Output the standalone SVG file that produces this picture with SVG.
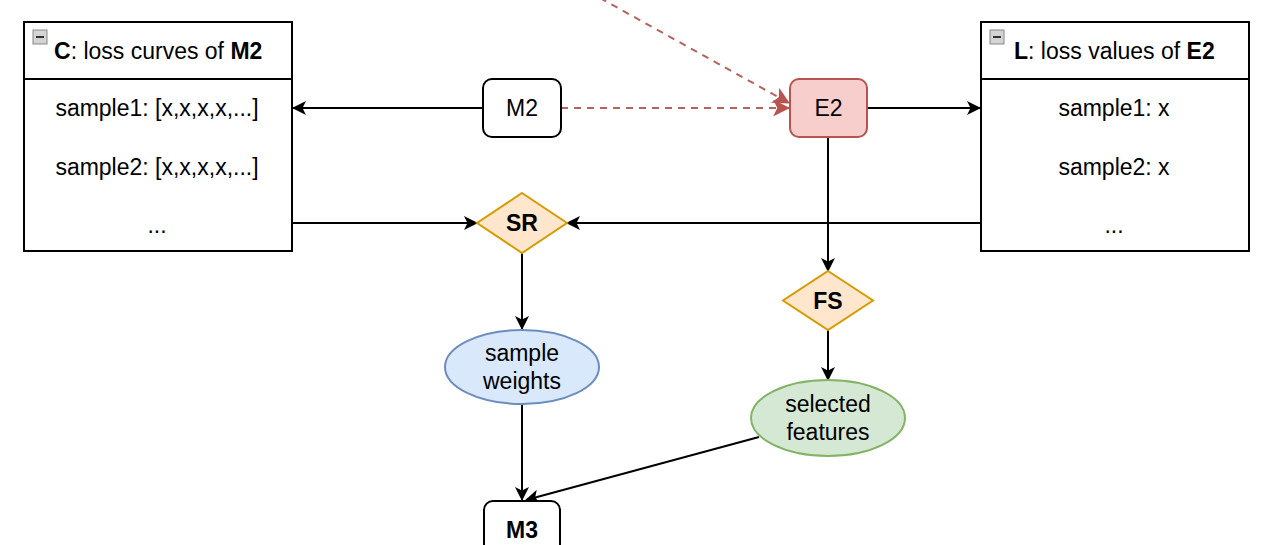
<svg xmlns="http://www.w3.org/2000/svg" width="1280" height="545" viewBox="0 0 1280 545">
<defs>
<style>
text{font-family:"Liberation Sans",Arial,sans-serif;font-size:23px;fill:#000;}
.c{text-anchor:middle;}
.b{font-weight:bold;}
.box{fill:#fff;stroke:#000;stroke-width:2;}
.edge{fill:none;stroke:#000;stroke-width:2;}
.dash{fill:none;stroke:#b5635e;stroke-width:2;stroke-dasharray:7,6;}
.icon{fill:#d4d4d4;stroke:#888;stroke-width:1;}
</style>
<marker id="ah" viewBox="0 0 14 14" refX="13" refY="7" markerWidth="14" markerHeight="14" markerUnits="userSpaceOnUse" orient="auto">
<path d="M0,0 L14,7 L0,14 L3.5,7 Z" fill="#000"/>
</marker>
<marker id="ahr" viewBox="0 0 16 16" refX="15" refY="8" markerWidth="17" markerHeight="17" markerUnits="userSpaceOnUse" orient="auto">
<path d="M0,0 L16,8 L0,16 L4,8 Z" fill="#b85450"/>
</marker>
</defs>

<g id="connectors">
<line class="edge" x1="483" y1="108" x2="293" y2="108" marker-end="url(#ah)"/>
<line class="dash" x1="561" y1="108" x2="789" y2="108" marker-end="url(#ahr)"/>
<line class="dash" x1="600" y1="-2" x2="789" y2="103" marker-end="url(#ahr)"/>
<line class="edge" x1="867" y1="108" x2="980" y2="108" marker-end="url(#ah)"/>
<line class="edge" x1="292" y1="223" x2="477" y2="223" marker-end="url(#ah)"/>
<line class="edge" x1="981" y1="223" x2="567" y2="223" marker-end="url(#ah)"/>
<line class="edge" x1="828" y1="137" x2="828" y2="271" marker-end="url(#ah)"/>
<line class="edge" x1="522" y1="253" x2="522" y2="329" marker-end="url(#ah)"/>
<line class="edge" x1="828" y1="330" x2="828" y2="380" marker-end="url(#ah)"/>
<line class="edge" x1="522" y1="404" x2="522" y2="500" marker-end="url(#ah)"/>
<line class="edge" x1="759" y1="437" x2="526" y2="500" marker-end="url(#ah)"/>
</g>

<g id="C">
<rect class="box" x="24" y="22" width="268" height="229"/>
<line class="edge" x1="24" y1="79" x2="292" y2="79"/>
<rect class="icon" x="33" y="30" width="14" height="14"/>
<line x1="36" y1="37" x2="44" y2="37" stroke="#333" stroke-width="2"/>
<text x="54" y="59"><tspan class="b">C</tspan>: loss curves of <tspan class="b">M2</tspan></text>
<text class="c" x="157" y="116">sample1: [x,x,x,x,...]</text>
<text class="c" x="157" y="175">sample2: [x,x,x,x,...]</text>
<text class="c" x="157" y="233">...</text>
</g>

<g id="L">
<rect class="box" x="981" y="22" width="268" height="229"/>
<line class="edge" x1="981" y1="79" x2="1249" y2="79"/>
<rect class="icon" x="990" y="30" width="14" height="14"/>
<line x1="993" y1="37" x2="1001" y2="37" stroke="#333" stroke-width="2"/>
<text x="1014" y="59"><tspan class="b">L</tspan>: loss values of <tspan class="b">E2</tspan></text>
<text class="c" x="1114" y="116">sample1: x</text>
<text class="c" x="1114" y="175">sample2: x</text>
<text class="c" x="1114" y="233">...</text>
</g>

<g id="M2">
<rect class="box" x="483" y="79" width="78" height="58" rx="9"/>
<text class="c" x="522" y="116">M2</text>
</g>

<g id="E2">
<rect x="790" y="79" width="77" height="58" rx="9" fill="#f8cecc" stroke="#b85450" stroke-width="2"/>
<text class="c" x="828.5" y="116">E2</text>
</g>

<g id="SR">
<polygon points="522,193 567,223 522,253 477,223" fill="#ffe6cc" stroke="#d79b00" stroke-width="2"/>
<text class="c b" x="522" y="231">SR</text>
</g>

<g id="FS">
<polygon points="828,271 873,300.5 828,330 783,300.5" fill="#ffe6cc" stroke="#d79b00" stroke-width="2"/>
<text class="c b" x="828" y="309">FS</text>
</g>

<g id="sample_weights">
<ellipse cx="522" cy="367" rx="77" ry="37" fill="#dae8fc" stroke="#6c8ebf" stroke-width="2"/>
<text class="c" x="522" y="361">sample</text>
<text class="c" x="522" y="389">weights</text>
</g>

<g id="selected_features">
<ellipse cx="828" cy="418" rx="77" ry="38" fill="#d5e8d4" stroke="#82b366" stroke-width="2"/>
<text class="c" x="828" y="412">selected</text>
<text class="c" x="828" y="440">features</text>
</g>

<g id="M3">
<rect class="box" x="484" y="501" width="76" height="58" rx="9"/>
<text class="c b" x="522" y="538">M3</text>
</g>
</svg>
